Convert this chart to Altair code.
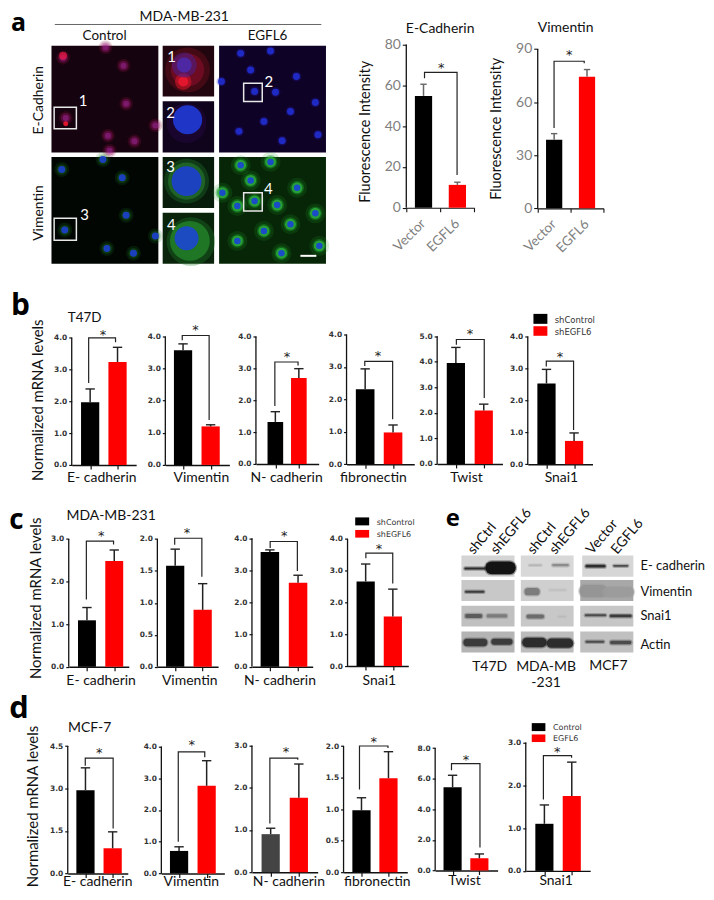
import altair as alt
import pandas as pd

RED = "#ff0000"
ONE = pd.DataFrame({"a": [0]})
TEXT = "Lato"
ROW_TOP = {"a": 8, "b": 282, "c": 498, "d": 694}

# ---------- values ----------
# each panel: gene, ticks, control, control error top, treated, treated error top,
# bracket height, left leg end, right leg end
A_PANELS = [
    ("E-Cadherin", [0, 20, 40, 60, 80], 54.8, 60.5, 11.2, 12.5, 66.3, 63.4, 16.0),
    ("Vimentin", [0, 30, 60, 90], 38.8, 42.2, 74.3, 78.4, 83.1, 45.4, 82.0),
]
T4 = [0, 1, 2, 3, 4]
B_PANELS = [
    ("E- cadherin", T4, 1.97, 2.39, 3.24, 3.70, 4.00, 2.58, 3.86),
    ("Vimentin", T4, 3.57, 3.77, 1.20, 1.25, 4.03, 3.88, 1.40),
    ("N- cadherin", T4, 1.32, 1.64, 2.70, 2.99, 3.20, 1.82, 3.09),
    ("fibronectin", T4, 2.31, 2.94, 0.98, 1.21, 3.17, 3.03, 1.39),
    ("Twist", [0, 1, 2, 3, 4, 5], 3.95, 4.56, 2.09, 2.34, 4.87, 4.66, 2.58),
    ("Snai1", T4, 2.53, 2.97, 0.73, 0.98, 3.23, 3.06, 1.07),
]
C_PANELS = [
    ("E- cadherin", [0, 1, 2, 3], 1.09, 1.39, 2.48, 2.74, 2.95, 1.58, 2.87),
    ("Vimentin", [0, 0.5, 1, 1.5, 2], 1.58, 1.84, 0.89, 1.30, 2.01, 1.91, 1.41),
    ("N- cadherin", T4, 3.57, 3.64, 2.62, 2.85, 3.90, 3.70, 2.98),
    ("Snai1", T4, 2.66, 3.21, 1.56, 2.42, 3.55, 3.39, 2.60),
]
D_PANELS = [
    ("E- cadherin", [0, 1.5, 3, 4.5], 2.94, 3.73, 0.89, 1.47, 4.07, 3.80, 1.59),
    ("Vimentin", T4, 0.71, 0.84, 2.76, 3.55, 3.83, 1.00, 3.66),
    ("N- cadherin", [0, 1, 2, 3], 0.90, 1.04, 1.76, 2.56, 2.70, 1.15, 2.66),
    ("fibronectin", [0, 0.5, 1, 1.5, 2], 0.98, 1.18, 1.49, 1.91, 2.00, 1.31, 1.97),
    ("Twist", [0, 2, 4, 6, 8], 5.44, 6.22, 0.80, 1.08, 6.98, 6.55, 1.50),
    ("Snai1", [0, 1, 2, 3], 1.10, 1.54, 1.75, 2.54, 2.69, 1.67, 2.64),
]

# ---------- panel geometry (page px): axis x, axis end, bar centres, bar width, baseline, top tick ----------
A_GEOM = [(407.7, 476, 425, 459, 17.3, 206.7, 42.7), (538.3, 604.3, 554.8, 587.8, 16.3, 207.3, 47.3)]
B_GEOM = [(71.3, 136, 89.8, 117.3, 18.3, 465, 337.3), (165, 229.3, 182.8, 210.5, 18.3, 465, 336),
          (254.7, 317.7, 274.2, 297.8, 15.7, 464, 336), (345, 413, 363.7, 391.7, 18.7, 464.3, 334),
          (435.7, 501.3, 454.5, 482.5, 18.3, 464, 335.7), (525.7, 590.7, 544.5, 572.2, 18.3, 464.3, 336)]
C_GEOM = [(69, 129.3, 87.3, 114.7, 18, 667.7, 539.3), (157.3, 218.3, 175.2, 202.8, 18.3, 667.7, 539.3),
          (251.7, 312.7, 269.7, 298, 18.6, 667.7, 538.7), (347.3, 408.3, 365.5, 392.8, 18.3, 667, 539.3)]
D_GEOM = [(67.7, 128, 85.5, 112.8, 18.3, 875.3, 747.3), (160.7, 224, 178.5, 206.2, 18.3, 875.3, 747.7),
          (250.7, 316.7, 269.5, 297.8, 18.3, 874, 746.7), (342.7, 406.7, 360.7, 387.8, 18.3, 874, 747.3),
          (434.3, 497, 451.8, 478.7, 18.2, 872.3, 749.3), (524.3, 589, 543, 570.5, 18.2, 872.7, 743.7)]
# bracket leg x (left, right), star x, star y, label centre x
A_MARK = [(426, 458.7, 442.7, 64), (554.7, 585, 570, 51)]
B_MARK = [(88.3, 115.3, 102.7, 332.3, 101), (182, 209, 195.3, 327.7, 200.7), (273.7, 297, 286, 355, 285),
          (363.3, 391.3, 376.7, 353.3, 371.5), (455, 483, 468.7, 331.7, 464.7), (544.3, 571.7, 558, 355, 559)]
C_MARK = [(86.7, 114, 101.7, 534.3, 101), (174.7, 202, 187, 531.7, 189.3), (270, 297.3, 284, 534.7, 279.3),
          (365.7, 392.7, 379, 547.7, 378.7)]
D_MARK = [(85.3, 113.3, 99.3, 752, 97.3), (177.7, 204.3, 191.3, 744.3, 190.3), (268.7, 296.7, 285, 751.7, 287.3),
          (358.7, 387.3, 373, 741, 376), (450.7, 479.3, 465.3, 759, 463.3), (542, 570.3, 556, 751, 554.3)]


def bar_panel(spec, geom, mark, row, label_y=None, style="graph", ctrl="#000000"):
    gene, ticks, v1, e1, v2, e2, yb, l1, l2 = spec
    ox, xe, c1, c2, w, base, top = geom
    pitch = c2 - c1
    W = xe - ox
    top_row = ROW_TOP[row]
    H = base - top_row
    unit = (base - top) / ticks[-1]
    ix = lambda px: (px - c1) / pitch
    xs = alt.Scale(domain=[ix(ox), ix(xe)], nice=False, zero=False)
    ys = alt.Scale(domain=[0, H / unit], nice=False, zero=False)
    hw = w / 2 / pitch
    graph = style == "graph"
    if graph:
        xax = alt.Axis(values=[0, 1], labels=False, tickSize=4, tickWidth=1.2, tickColor="#111",
                       domainColor="#111", domainWidth=1.4, grid=False, title=gene,
                       titleFont=TEXT, titleFontSize=14, titleFontWeight="normal", titleColor="#111",
                       titleX=mark[4] - ox, titleY=(label_y - base), titleBaseline="middle", titleAlign="center")
        yax = alt.Axis(values=ticks, format=".1f", domain=False, grid=False, tickSize=3, tickWidth=1.2,
                       tickColor="#111", labelFont="DejaVu Sans", labelFontSize=7.5, labelColor="#333",
                       labelPadding=2, title=None, labelFontWeight="bold")
    else:
        xax = alt.Axis(values=[-0.5, 0.5, 1.5], labels=False, tickSize=4, tickWidth=1.1, tickColor="#111",
                       domainColor="#111", domainWidth=1.1, grid=False, title=None)
        yax = alt.Axis(values=ticks, format="d", domain=False, grid=False, tickSize=4, tickWidth=1.1,
                       tickColor="#111", labelFont=TEXT, labelFontSize=14, labelColor="#808080", labelPadding=2,
                       title="Fluorescence Intensity", titleFont=TEXT, titleFontSize=14.5, titleFontWeight="normal",
                       titleColor="#111", titleX=(366.7 if gene == "E-Cadherin" else 497) - ox,
                       titleY=(130 if gene == "E-Cadherin" else 127) - top_row, titleAngle=270,
                       titleBaseline="middle", titleAlign="center")
    X0 = alt.X("x:Q", scale=xs, axis=xax)
    Y0 = alt.Y("y:Q", scale=ys, axis=yax)
    bars = pd.DataFrame({"x": [-hw, 1 - hw], "x2": [hw, 1 + hw], "y": [0, 0], "y2": [v1, v2], "c": [ctrl, RED]})
    errs = pd.DataFrame({"x": [0, 1], "y": [v1, v2], "y2": [e1, e2]})
    cap = 3.2 / pitch if style != "graph" else 4.7 / pitch
    caps = pd.DataFrame({"x": [-cap, 1 - cap], "x2": [cap, 1 + cap], "y": [e1, e2]})
    br = pd.DataFrame({"x": [ix(mark[0]), ix(mark[0]), ix(mark[1]), ix(mark[1])], "y": [l1, yb, yb, l2], "o": [0, 1, 2, 3]})
    err_col = "#222" if graph else "#666"
    layers = [
        alt.Chart(bars).mark_bar().encode(x=X0, x2="x2:Q", y=Y0, y2="y2:Q", color=alt.Color("c:N", scale=None)),
        alt.Chart(errs).mark_rule(color=err_col, strokeWidth=1.5).encode(x=X0, y=Y0, y2="y2:Q"),
        alt.Chart(caps).mark_rule(color=err_col, strokeWidth=1.4).encode(x=X0, x2="x2:Q", y=Y0),
        alt.Chart(br).mark_line(color="#222", strokeWidth=1.2, interpolate="linear").encode(x=X0, y=Y0, order="o:Q"),
        alt.Chart(pd.DataFrame({"y": [0], "y2": [ticks[-1]]})).mark_rule(color="#111", strokeWidth=1.3).encode(
            x=alt.value(0), y=Y0, y2="y2:Q"),
        alt.Chart(pd.DataFrame({"x": [ix(mark[2])], "y": [(base - mark[3]) / unit]})).mark_text(
            text="*", font="DejaVu Sans", fontSize=13, color="#222", baseline="middle", dy=2).encode(x=X0, y=Y0),
    ]
    if not graph:
        labels = pd.DataFrame({"x": [0, 1], "t": ["Vector", "EGFL6"]})
        layers.append(alt.Chart(labels).mark_text(font=TEXT, fontSize=13.5, color="#808080", angle=315, align="right",
                                                  baseline="middle", dy=0).encode(
            x=X0, y=alt.value(H + 14), text="t:N"))
    return alt.layer(*layers).properties(width=W, height=H)


def frame(w, h):
    # invisible mark that makes the row's bounds equal its intended box
    return alt.Chart(ONE).mark_rect(opacity=0).encode(x=alt.value(0), x2=alt.value(w), y=alt.value(0), y2=alt.value(h))


def spacer(w):
    w = max(w, 0.01)
    return frame(w, 1).properties(width=w, height=1)


def T(row, text, x, y, size=14, color="#111", angle=0, align="center", font=TEXT, weight="normal"):
    return alt.Chart(ONE).mark_text(text=text, fontSize=size, color=color, angle=angle, align=align,
                                    baseline="middle", font=font, fontWeight=weight).encode(
        x=alt.value(x - 8), y=alt.value(y - ROW_TOP[row]))


def swatch(row, x1, x2, y1, y2, color):
    return alt.Chart(ONE).mark_rect(color=color).encode(
        x=alt.value(x1 - 8), x2=alt.value(x2 - 8), y=alt.value(y1 - ROW_TOP[row]), y2=alt.value(y2 - ROW_TOP[row]))


def row_of(first, panels, geoms, end_gap=None):
    items = [first]
    for i, p in enumerate(panels):
        items.append(p)
        if i + 1 < len(panels):
            items.append(spacer(geoms[i + 1][0] - geoms[i][1]))
    return items


# ---------- micrographs, in reference pixels x3 ----------
IMAGES = [  # x1, x2, y1, y2, background
    (155, 477, 132, 454, "#15030f"), (490, 645, 132, 285, "#22060f"), (490, 645, 299, 454, "#10031c"),
    (660, 982, 132, 454, "#0e0326"), (155, 477, 467, 789, "#010602"), (490, 645, 467, 621, "#071c0a"),
    (490, 645, 635, 789, "#0a240c"), (660, 982, 467, 789, "#072607"),
]
E_CTRL_CELLS = [(190, 168), (372, 192), (380, 307), (325, 403), (405, 420), (198, 350), (318, 137), (468, 372), (330, 448)]
E_EGFL_CELLS = [(725, 155), (815, 148), (755, 205), (893, 225), (767, 270), (830, 272), (950, 303), (875, 330),
                (795, 360), (720, 390), (850, 418), (958, 400), (667, 240)]
V_CTRL_CELLS = [(186, 505), (310, 475), (368, 530), (380, 643), (195, 687), (322, 743), (402, 757), (468, 705)]
V_EGFL_CELLS = [(725, 492), (815, 482), (755, 538), (895, 560), (767, 600), (835, 612), (715, 615), (670, 575),
                (950, 637), (795, 690), (875, 670), (715, 720), (848, 757), (962, 735)]
INSET_SPOTS = [  # x, y, diameter, colour, opacity
    (565, 205, 135, "#80101f", 0.35), (565, 205, 100, "#a01030", 0.45), (552, 240, 50, "#e01828", 0.55), (552, 240, 30, "#f01830", 0.8),
    (555, 190, 75, "#4a2090", 0.55), (555, 190, 45, "#4a30c0", 0.7),
    (562, 365, 120, "#2a0c50", 0.35), (565, 355, 88, "#2038d0", 0.95),
    (562, 540, 135, "#1f6c2a", 0.4), (562, 540, 112, "#2c8c34", 0.5), (562, 540, 90, "#1c40c8", 0.95),
    (575, 722, 146, "#1f7a28", 0.35), (572, 720, 120, "#2a9a30", 0.6), (562, 712, 72, "#1c48c8", 0.95),
]
BOXES = [(163, 230, 317, 382), (734, 790, 245, 300), (163, 230, 652, 718), (734, 790, 575, 630)]
IMG_NUM = [("1", 250, 300), ("2", 810, 240), ("3", 255, 642), ("4", 808, 565),
           ("1", 517, 167), ("2", 514, 335), ("3", 514, 498), ("4", 516, 672)]


def spots(cells, d, color, op, dx=0, dy=0):
    return [(x + dx, y + dy, d, color, op) for x, y in cells]


A_W, A_H = 407.7 - 8, ROW_TOP["b"] - ROW_TOP["a"]
ax_img = alt.Scale(domain=[24, 24 + 3 * A_W], range=[0, A_W], nice=False, zero=False)
ay_img = alt.Scale(domain=[3 * ROW_TOP["a"], 3 * ROW_TOP["a"] + 3 * A_H], range=[0, A_H], nice=False, zero=False)
AX = alt.X("x:Q", scale=ax_img, axis=None)
AY = alt.Y("y:Q", scale=ay_img, axis=None)

all_spots = (
    spots(E_CTRL_CELLS, 14, "#8a1038", 0.22) + spots(E_CTRL_CELLS, 10, "#a0187a", 0.35) + spots(E_CTRL_CELLS, 6, "#a0289a", 0.5)
    + spots(E_CTRL_CELLS[:1], 8, "#f01840", 0.7, 0, -6) + [(198, 367, 5, "#f01830", 0.9)]
    + spots(E_EGFL_CELLS, 10, "#2a18c0", 0.25) + spots(E_EGFL_CELLS, 7, "#2030d8", 0.85)
    + spots(V_CTRL_CELLS, 15, "#1f7a28", 0.18) + spots(V_CTRL_CELLS, 10.5, "#1f7a28", 0.3) + spots(V_CTRL_CELLS, 7, "#1c40c8", 0.95)
    + spots(V_EGFL_CELLS, 20, "#1f9a2a", 0.18) + spots(V_EGFL_CELLS, 14, "#1f9a2a", 0.4)
    + spots(V_EGFL_CELLS, 11, "#2cb040", 0.8) + spots(V_EGFL_CELLS, 6.5, "#1a48d0", 0.95)
)
spot_df = pd.DataFrame(all_spots, columns=["x", "y", "d", "c", "o"])
spot_df["s"] = spot_df["d"] ** 2
inset_df = pd.DataFrame(INSET_SPOTS, columns=["x", "y", "d", "c", "o"])
inset_df["s"] = (inset_df["d"] / 3) ** 2
img_df = pd.DataFrame(IMAGES, columns=["x", "x2", "y", "y2", "c"])
box_df = pd.DataFrame(BOXES, columns=["x", "x2", "y", "y2"])
num_df = pd.DataFrame(IMG_NUM, columns=["t", "x", "y"])


def spot_chart(df):
    return alt.Chart(df).mark_point(filled=True, shape="circle", strokeWidth=0).encode(
        x=AX, y=AY, size=alt.Size("s:Q", scale=None), color=alt.Color("c:N", scale=None),
        opacity=alt.Opacity("o:Q", scale=None))


first_a = alt.layer(
    frame(A_W, A_H),
    alt.Chart(img_df).mark_rect().encode(x=AX, x2="x2:Q", y=AY, y2="y2:Q", color=alt.Color("c:N", scale=None)),
    spot_chart(spot_df),
    spot_chart(inset_df),
    alt.Chart(box_df).mark_rect(fillOpacity=0, stroke="#e8e8e8", strokeWidth=1.5).encode(x=AX, x2="x2:Q", y=AY, y2="y2:Q"),
    alt.Chart(num_df).mark_text(color="#ffffff", fontSize=15, font=TEXT).encode(x=AX, y=AY, text="t:N"),
    alt.Chart(pd.DataFrame({"x": [905], "x2": [953], "y": [765]})).mark_rule(color="#fff", strokeWidth=2).encode(x=AX, x2="x2:Q", y=AY),
    alt.Chart(pd.DataFrame({"x": [165], "x2": [968], "y": [68]})).mark_rule(color="#666", strokeWidth=1).encode(x=AX, x2="x2:Q", y=AY),
    T("a", "a", 18.5, 21.5, 25, "#000", weight="bold", font="Open Sans"),
    T("a", "MDA-MB-231", 185, 15.5, 14),
    T("a", "Control", 105, 34.7, 13.5),
    T("a", "EGFL6", 268.7, 34.7, 13.5),
    T("a", "E-Cadherin", 39, 98.7, 14, angle=270),
    T("a", "Vimentin", 39, 212, 14, angle=270),
    T("a", "E-Cadherin", 442, 27, 14),
    T("a", "Vimentin", 568, 26, 14),
).properties(width=A_W, height=A_H)

a_panels = [bar_panel(s, g, m + (0,), "a", style="fluor") for s, g, m in zip(A_PANELS, A_GEOM, A_MARK)]
row_a = alt.hconcat(*row_of(first_a, a_panels, A_GEOM), spacing=0, bounds="flush")

# ---------- row b ----------
B_W, B_H = B_GEOM[0][0] - 8, ROW_TOP["c"] - ROW_TOP["b"]
first_b = alt.layer(
    frame(B_W, B_H),
    T("b", "b", 20.5, 305.3, 30, "#000", weight="bold", font="Open Sans"),
    T("b", "T47D", 68, 317, 13.5, align="left"),
    T("b", "Normalized mRNA levels", 38.3, 400, 15, angle=270),
    swatch("b", 535.7, 549.7, 313.3, 323.3, "#000"),
    swatch("b", 535.7, 549.7, 325.7, 335.3, RED),
    T("b", "shControl", 557, 319.7, 8.5, "#333", align="left", font="DejaVu Sans"),
    T("b", "shEGFL6", 557, 331.7, 8.5, "#333", align="left", font="DejaVu Sans"),
).properties(width=B_W, height=B_H)
b_panels = [bar_panel(s, g, m, "b", 478) for s, g, m in zip(B_PANELS, B_GEOM, B_MARK)]
row_b = alt.hconcat(*row_of(first_b, b_panels, B_GEOM), spacing=0, bounds="flush")

# ---------- row c and blots ----------
C_W, C_H = C_GEOM[0][0] - 8, ROW_TOP["d"] - ROW_TOP["c"]
first_c = alt.layer(
    frame(C_W, C_H),
    T("c", "c", 16.5, 521.6, 28, "#000", weight="bold", font="Open Sans"),
    T("c", "MDA-MB-231", 66.7, 516, 14, align="left"),
    T("c", "Normalized mRNA levels", 36, 599, 15, angle=270),
    swatch("c", 356.7, 370.7, 517.7, 525.7, "#000"),
    swatch("c", 356.7, 370.7, 530.3, 538, RED),
    T("c", "shControl", 378.3, 523, 8, "#333", align="left", font="DejaVu Sans"),
    T("c", "shEGFL6", 378.3, 535.7, 8, "#333", align="left", font="DejaVu Sans"),
).properties(width=C_W, height=C_H)
c_panels = [bar_panel(s, g, m, "c", 681.7) for s, g, m in zip(C_PANELS, C_GEOM, C_MARK)]

BLOTS = [  # x1, x2, y1, y2, shade
    (95, 255, 168, 232, "#d4d4d4"), (274, 433, 168, 232, "#d8d8d8"), (459, 613, 168, 232, "#d6d6d6"),
    (95, 255, 242, 305, "#c8c8c8"), (274, 433, 242, 305, "#cfcfcf"), (453, 613, 242, 305, "#a8a8a8"),
    (95, 255, 319, 382, "#c0c0c0"), (274, 433, 319, 382, "#c8c8c8"), (453, 613, 319, 382, "#c6c6c6"),
    (95, 255, 397, 460, "#b4b4b4"), (274, 433, 397, 460, "#bcbcbc"), (453, 613, 397, 460, "#c0c0c0"),
]
BANDS = [  # x1, x2, y, thickness, shade
    (107, 165, 207, 6, "#222222"), (186, 240, 205, 38, "#050505"), (300, 335, 197, 3, "#aaaaaa"), (372, 415, 197, 7, "#888888"),
    (473, 525, 200, 8, "#222222"), (555, 595, 199, 5, "#444444"),
    (109, 161, 277, 6, "#333333"), (296, 320, 277, 22, "#777777"), (362, 408, 272, 4, "#bcbcbc"),
    (468, 516, 275, 36, "#939393"), (535, 600, 278, 30, "#9b9b9b"),
    (112, 152, 350, 12, "#555555"), (176, 228, 350, 10, "#777777"), (297, 338, 352, 12, "#666666"), (387, 408, 352, 3, "#b8b8b8"),
    (470, 528, 348, 6, "#444444"), (546, 604, 350, 8, "#333333"),
    (112, 162, 430, 22, "#333333"), (194, 240, 428, 18, "#333333"), (292, 338, 430, 28, "#222222"), (366, 418, 432, 28, "#222222"),
    (472, 522, 428, 6, "#444444"), (548, 602, 430, 10, "#444444"),
]
E_X0 = C_GEOM[-1][1]
E_W, E_H = 706 - E_X0, ROW_TOP["d"] - ROW_TOP["c"]
EX = alt.X("x:Q", scale=alt.Scale(domain=[(E_X0 - 430) * 3, (E_X0 - 430 + E_W) * 3], range=[0, E_W], nice=False, zero=False), axis=None)
EY = alt.Y("y:Q", scale=alt.Scale(domain=[(ROW_TOP["c"] - 500) * 3, (ROW_TOP["c"] - 500 + E_H) * 3], range=[0, E_H], nice=False, zero=False), axis=None)


def TE(text, x, y, size=14, color="#111", angle=0, align="center", font=TEXT, weight="normal"):
    return alt.Chart(ONE).mark_text(text=text, fontSize=size, color=color, angle=angle, align=align,
                                    baseline="middle", font=font, fontWeight=weight).encode(
        x=alt.value(x - E_X0), y=alt.value(y - ROW_TOP["c"]))


blot_df = pd.DataFrame(BLOTS, columns=["x", "x2", "y", "y2", "c"])
band_df = pd.DataFrame(BANDS, columns=["x", "x2", "y", "t", "c"])
band_df["t"] = band_df["t"] / 3
halo_df = band_df.assign(t=band_df["t"] + 2.5)
e_layers = [
    alt.Chart(blot_df).mark_rect().encode(x=EX, x2="x2:Q", y=EY, y2="y2:Q", color=alt.Color("c:N", scale=None)),
    alt.Chart(halo_df).mark_rule(strokeCap="round", opacity=0.35).encode(
        x=EX, x2="x2:Q", y=EY, color=alt.Color("c:N", scale=None), strokeWidth=alt.StrokeWidth("t:Q", scale=None)),
    alt.Chart(band_df).mark_rule(strokeCap="round", opacity=0.9).encode(
        x=EX, x2="x2:Q", y=EY, color=alt.Color("c:N", scale=None), strokeWidth=alt.StrokeWidth("t:Q", scale=None)),
    TE("e", 453, 519.5, 24, "#000", weight="bold", font="Open Sans"),
]
for t, x, y in [("shCtrl", 471, 553), ("shEGFL6", 494, 553), ("shCtrl", 531, 553), ("shEGFL6", 553, 553),
                ("Vector", 590, 553), ("EGFL6", 615, 553)]:
    e_layers.append(TE(t, x, y, 14, angle=310, align="left"))
for t, y in [("E- cadherin", 566.7), ("Vimentin", 592.7), ("Snai1", 616.7), ("Actin", 645.7)]:
    e_layers.append(TE(t, 641.5, y, 13, align="left"))
for t, x, y in [("T47D", 490, 667.7), ("MDA-MB", 546.7, 667.7), ("-231", 546.7, 684), ("MCF7", 609.3, 666.7)]:
    e_layers.append(TE(t, x, y, 14))
panel_e = alt.layer(*e_layers).properties(width=E_W, height=E_H)
row_c = alt.hconcat(*row_of(first_c, c_panels, C_GEOM), panel_e, spacing=0, bounds="flush")

# ---------- row d ----------
D_W, D_H = D_GEOM[0][0] - 8, 188
first_d = alt.layer(
    frame(D_W, D_H),
    T("d", "d", 19, 710.5, 31, "#000", weight="bold", font="Open Sans"),
    T("d", "MCF-7", 68.3, 729.7, 14, align="left"),
    T("d", "Normalized mRNA levels", 33.3, 808, 15, angle=270),
    swatch("d", 534, 547.7, 724.3, 732.3, "#000"),
    swatch("d", 534, 547.7, 735.7, 743.3, RED),
    T("d", "Control", 555.3, 729.7, 8, "#333", align="left", font="DejaVu Sans"),
    T("d", "EGFL6", 555.3, 740.7, 8, "#333", align="left", font="DejaVu Sans"),
).properties(width=D_W, height=D_H)
d_label_y = [883, 883, 883, 883, 882, 882]
d_panels = [bar_panel(s, g, m, "d", ly, ctrl="#444444" if i == 2 else "#000000")
            for i, (s, g, m, ly) in enumerate(zip(D_PANELS, D_GEOM, D_MARK, d_label_y))]
row_d = alt.hconcat(*row_of(first_d, d_panels, D_GEOM), spacing=0, bounds="flush")

chart = alt.vconcat(row_a, row_b, row_c, row_d, spacing=0).properties(
    padding=0, background="#ffffff").configure_view(stroke=None)
chart.save("out.html", embed_options={"renderer": "svg", "actions": False})
